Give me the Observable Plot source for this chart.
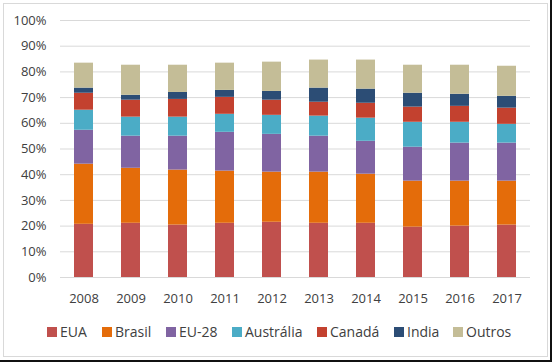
<!DOCTYPE html>
<html>
<head>
<meta charset="utf-8">
<script src="https://cdn.jsdelivr.net/npm/d3@7"></script>
<script src="https://cdn.jsdelivr.net/npm/@observablehq/plot@0.6"></script>
<style>
  html, body { margin: 0; padding: 0; background: #fff; }
  body { width: 552px; height: 362px; position: relative; overflow: hidden; font-family: "Open Sans", Lato, sans-serif; }
  #edge { position: absolute; left: 0; top: 0; width: 550px; height: 360px; border-right: 2px solid #111; border-bottom: 2px solid #111; }
  #frame { position: absolute; left: 3px; top: 3px; width: 543px; height: 352px; border: 1px solid #d9d9d9; }
  #chart { position: absolute; left: 0; top: 0; }
  #legend { position: absolute; left: 0; top: 323px; width: 552px; height: 18px; color: #404040; font-size: 14px; }
  .item { position: absolute; top: 0; height: 18px; line-height: 18px; white-space: nowrap; }
  .sw { display: inline-block; width: 10px; height: 10px; vertical-align: middle; margin-right: 3px; position: relative; top: -1px; }
</style>
</head>
<body>
<div id="edge"></div>
<div id="frame"></div>
<div id="chart"></div>
<div id="legend"></div>
<script>
const years = ["2008","2009","2010","2011","2012","2013","2014","2015","2016","2017"];
const seriesNames = ["EUA","Brasil","EU-28","Austrália","Canadá","India","Outros"];
const seriesColors = ["#C0504D","#E46C0A","#8064A2","#4BACC6","#C3412F","#2C4D75","#C4BD97"];
const EUA       = [20.7, 21.1, 20.4, 21.1, 21.5, 21.1, 21.1, 19.6, 20.0, 20.4];
const Brasil    = [23.4, 21.4, 21.4, 20.3, 19.5, 19.9, 19.1, 17.9, 17.5, 17.1];
const EU28      = [13.2, 12.5, 13.2, 15.1, 14.7, 14.0, 12.8, 13.2, 14.8, 14.8];
const Australia = [ 7.8,  7.4,  7.4,  7.0,  7.4,  7.8,  9.0,  9.7,  8.1,  7.3];
const Canada    = [ 6.6,  6.6,  6.9,  6.6,  5.9,  5.4,  5.8,  5.9,  6.2,  6.3];
const India     = [ 2.0,  1.9,  2.7,  2.7,  3.4,  5.5,  5.5,  5.4,  4.7,  4.6];
const Outros    = [ 9.7, 11.7, 10.6, 10.6, 11.4, 10.9, 11.3, 10.9, 11.3, 11.7];
const yTicks = [0,10,20,30,40,50,60,70,80,90,100];

const seriesValues = [EUA, Brasil, EU28, Australia, Canada, India, Outros];
const data = [];
seriesNames.forEach((s, i) => {
  years.forEach((y, j) => data.push({year: y, series: s, value: seriesValues[i][j]}));
});

const plot = Plot.plot({
  width: 552,
  height: 312,
  marginTop: 20,
  marginBottom: 35,
  marginLeft: 60,
  marginRight: 22,
  style: {fontFamily: '"Open Sans", Lato, sans-serif', fontSize: "13px", color: "#404040", background: "transparent"},
  x: {domain: years, paddingInner: 0.6, paddingOuter: 0.3, label: null, tickSize: 0, tickPadding: 16},
  y: {domain: [0, 100], ticks: yTicks, tickFormat: d => d + "%", label: null, tickSize: 0, tickPadding: 14},
  color: {domain: seriesNames, range: seriesColors},
  marks: [
    Plot.gridY(yTicks, {stroke: "#d9d9d9", strokeOpacity: 1, strokeWidth: 1}),
    Plot.barY(data, {x: "year", y: "value", fill: "series", order: seriesNames})
  ]
});
document.getElementById("chart").appendChild(plot);

// legend
const legendX = [47, 102, 166, 232, 317, 394, 453];
const legend = document.getElementById("legend");
seriesNames.forEach((s, i) => {
  const it = document.createElement("div");
  it.className = "item";
  it.style.left = legendX[i] + "px";
  const sw = document.createElement("span");
  sw.className = "sw";
  sw.style.background = seriesColors[i];
  it.appendChild(sw);
  it.appendChild(document.createTextNode(s));
  legend.appendChild(it);
});
</script>
</body>
</html>
